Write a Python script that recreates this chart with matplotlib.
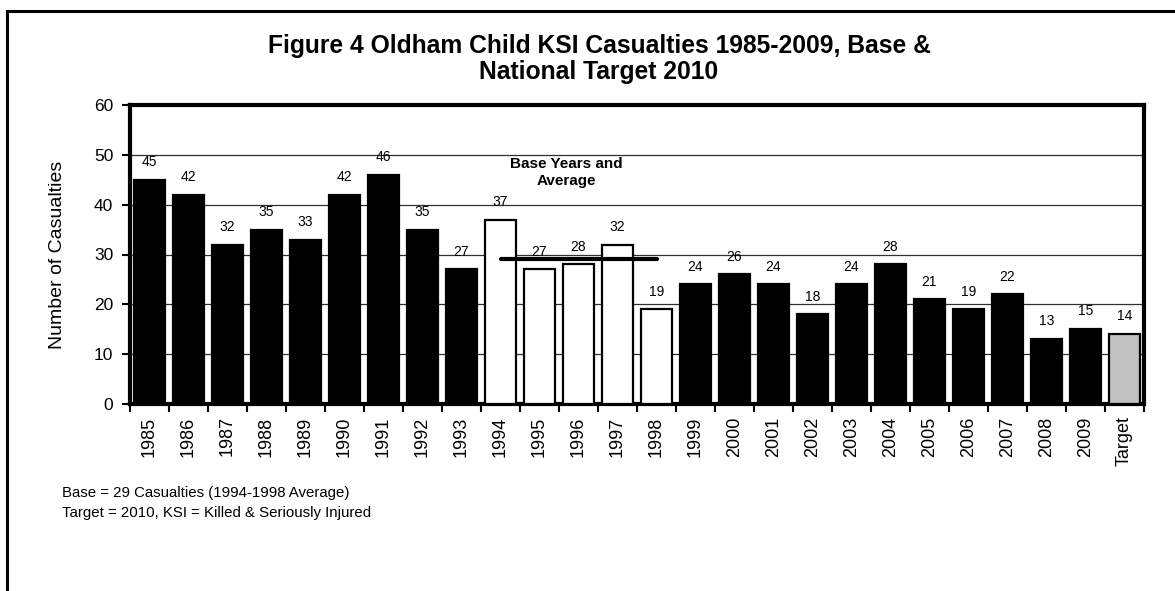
"""Oldham child KSI casualties bar chart, 1985-2009 with base years and 2010 target."""
import numpy as np
import matplotlib
matplotlib.use("Agg")
import matplotlib.pyplot as plt
from matplotlib.lines import Line2D

plt.rcParams["font.family"] = ["Liberation Sans", "DejaVu Sans"]

CATEGORIES = [str(y) for y in range(1985, 2010)] + ["Target"]
CASUALTIES = [45, 42, 32, 35, 33, 42, 46, 35, 27, 37, 27, 28, 32, 19,
              24, 26, 24, 18, 24, 28, 21, 19, 22, 13, 15, 14]
BASE_YEARS = ["1994", "1995", "1996", "1997", "1998"]
BASE_AVG = 29

TITLE = "Figure 4 Oldham Child KSI Casualties 1985-2009, Base &\nNational Target 2010"
NOTES = ["Base = 29 Casualties (1994-1998 Average)",
         "Target = 2010, KSI = Killed & Seriously Injured"]

W, H = 1175, 591
fig = plt.figure(figsize=(W / 100, H / 100), dpi=100)

# outer frame (only left and top edges fall inside the image)
fig.add_artist(Line2D([7 / W, 7 / W], [0, 1 - 11 / H], transform=fig.transFigure,
                      color="black", lw=2.2, solid_capstyle="projecting"))
fig.add_artist(Line2D([7 / W, 1], [1 - 11 / H, 1 - 11 / H], transform=fig.transFigure,
                      color="black", lw=2.2, solid_capstyle="projecting"))

left, right, top, bottom = 130, 1144, 105, 404
ax = fig.add_axes([left / W, 1 - bottom / H, (right - left) / W, (bottom - top) / H])

x = np.arange(len(CATEGORIES))
faces = []
for c in CATEGORIES:
    if c in BASE_YEARS:
        faces.append("white")
    elif c == "Target":
        faces.append("#c0c0c0")
    else:
        faces.append("black")

ax.bar(x, CASUALTIES, width=0.77, color=faces, edgecolor="black", linewidth=1.6, zorder=3)

for xi, v in zip(x, CASUALTIES):
    ax.annotate(str(v), (xi, v), xytext=(0, 12.8), textcoords="offset points",
                ha="center", va="center", fontsize=10, zorder=5)

# base average line across the base years
b0 = CATEGORIES.index(BASE_YEARS[0])
b1 = CATEGORIES.index(BASE_YEARS[-1])
ax.plot([b0, b1], [BASE_AVG, BASE_AVG], color="black", lw=3.0,
        solid_capstyle="round", zorder=4)
ax.text(10.7, 46.4, "Base Years and\nAverage", ha="center", va="center",
        fontsize=11, fontweight="bold", linespacing=1.3, zorder=5)

ax.set_xlim(-0.5, len(CATEGORIES) - 0.5)
ax.set_ylim(0, 60)
ax.set_yticks(np.arange(0, 61, 10))
ax.yaxis.grid(True, color="#303030", lw=0.9, zorder=0)
ax.set_axisbelow(True)

ax.set_xticks(np.arange(-0.5, len(CATEGORIES)), labels=[])
ax.set_xticks(x, labels=CATEGORIES, minor=True, rotation=90)
ax.tick_params(axis="x", which="major", direction="out", length=6, width=1.5)
ax.tick_params(axis="x", which="minor", length=0, labelsize=13, pad=9)
ax.tick_params(axis="y", direction="out", length=6, width=1.5, labelsize=12.5, pad=6)

for s in ax.spines.values():
    s.set_linewidth(3.0)

ax.set_ylabel("Number of Casualties", fontsize=14, labelpad=20)

fig.text(599 / W, 1 - 59 / H, TITLE, ha="center", va="center", fontsize=17.7,
         fontweight="bold", linespacing=1.15)

fig.text(62 / W, 1 - 493 / H, NOTES[0], ha="left", va="center", fontsize=10.8)
fig.text(62 / W, 1 - 513 / H, NOTES[1], ha="left", va="center", fontsize=10.8)

fig.savefig("out.png", dpi=100)
